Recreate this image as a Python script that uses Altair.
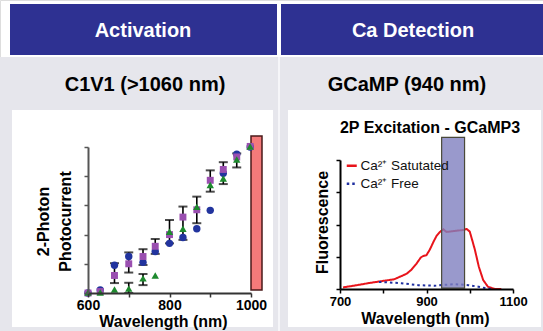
import altair as alt
import pandas as pd

FONT = "Liberation Sans"

# ---------------- data ----------------
# Left panel: C1V1 two-photon photocurrent
wl_left = [600, 630, 665, 700, 735, 765, 800, 833, 867, 900, 932, 965, 998]
blue_vals = [0.0, 0.1, 0.95, 1.25, 1.05, 1.42, 1.7, 1.9, 2.2, 2.83, 4.1, 4.75, 5.0]
purple_vals = [0.0, 0.05, 0.6, 1.0, 1.25, 1.6, 2.0, 2.6, 2.85, 3.86, 4.23, 4.66, 5.02]
green_vals = [0.02, 0.02, 0.12, 0.15, 0.5, 0.6, 2.1, 2.2, 2.95, 3.7, 3.92, 4.57, 5.02]
err_wl = [665, 700, 700, 735, 735, 765, 800, 833, 867, 900, 932, 965]
err_lo = [0.34, 0.70, 0.0, 0.96, 0.27, 1.34, 1.7, 1.82, 2.39, 3.47, 3.73, 4.3]
err_hi = [1.02, 1.39, 0.35, 1.5, 0.65, 1.85, 2.5, 2.96, 3.3, 4.2, 4.48, 4.78]
band_left_x = [1000, 1027]
band_left_y = [0.1, 5.38]

# Right panel: GCaMP3 2P excitation
wl_sat = [707, 740, 765, 804, 825, 842, 855, 866, 877, 887, 892, 900, 908, 916, 923, 931, 939,
          946, 965, 985, 993, 1000, 1006, 1012, 1021, 1031, 1042, 1058, 1073]
sat_vals = [0.05, 0.12, 0.18, 0.26, 0.30, 0.40, 0.48, 0.61, 0.79, 0.98, 1.02, 1.05, 1.23, 1.46,
            1.64, 1.77, 1.85, 1.77, 1.80, 1.83, 1.86, 1.78, 1.5, 1.21, 0.69, 0.28, 0.07, 0.0, 0.0]
wl_free = [790, 804, 842, 881, 919, 942, 966, 997, 1020, 1043, 1055]
free_vals = [0.22, 0.21, 0.18, 0.12, 0.10, 0.13, 0.15, 0.12, 0.07, 0.01, 0.0]
band_right_x = [935, 988]
band_right_y = [0.03, 4.7]

series_names = ["Ca\u00b2\u207a Satutated", "Ca\u00b2\u207a Free"]
headers = ["Activation", "Ca Detection"]
subheaders = ["C1V1 (>1060 nm)", "GCaMP (940 nm)"]
right_title = "2P Excitation - GCaMP3"

# ---------------- helpers ----------------
one = pd.DataFrame({"k": [0]})


def rect(x1, x2, y1, y2, color):
    return alt.Chart(one).mark_rect(color=color).encode(
        x=alt.value(x1), x2=alt.value(x2), y=alt.value(y1), y2=alt.value(y2))


def text(x, y, s, size, color="black", weight="bold"):
    return alt.Chart(one).mark_text(
        font=FONT, fontSize=size, fontWeight=weight, color=color,
        align="center", baseline="alphabetic", text=s
    ).encode(x=alt.value(x), y=alt.value(y))


BLUE_HDR = "#2E3192"
GRAY = "#E6E6EC"

deco = [
    rect(0, 543, 57, 331, GRAY),
    rect(10, 277, 4, 55, BLUE_HDR),
    rect(281, 543, 4, 55, BLUE_HDR),
    rect(278, 280, 57, 331, "#F6F6F9"),
    rect(12, 273, 110, 327, "white"),
    rect(288, 541, 110, 327, "white"),
    text(143, 37, headers[0], 20, "white"),
    text(413, 37, headers[1], 20, "white"),
    text(145, 91, subheaders[0], 20),
    text(407, 91, subheaders[1], 20),
    text(430, 133, right_title, 16),
]

# ---------------- left panel ----------------
LX = alt.Scale(domain=[600, 1000], range=[88, 251], nice=False, zero=False)
LY = alt.Scale(domain=[0, 5], range=[293, 147], nice=False, zero=False)

left_xaxis = alt.Axis(
    orient="bottom", offset=-38, values=[600, 700, 800, 900, 1000], format="d",
    labelExpr="datum.value % 200 == 0 ? datum.label : ''",
    labelFont=FONT, labelFontSize=14, labelFontWeight="bold", labelColor="black",
    labelPadding=1, labelFlush=False, labelOverlap=False,
    tickSize=4, tickColor="#333", tickWidth=1.5, domainColor="#333", domainWidth=2,
    title="Wavelength (nm)", titleFont=FONT, titleFontSize=16, titleFontWeight="bold",
    titleColor="black", titleX=163, titleY=33, titleBaseline="alphabetic", titleAlign="center",
    grid=False, zindex=1)
left_yaxis = alt.Axis(
    orient="left", offset=-88, values=[0, 1, 2, 3, 4, 5], labels=False,
    tickSize=4, tickColor="#555", tickWidth=1.5, domainColor="#555", domainWidth=2,
    title=["2-Photon", "Photocurrent"], titleFont=FONT, titleFontSize=16,
    titleFontWeight="bold", titleColor="black", titleAngle=270, titleX=-45, titleY=221,
    titleBaseline="middle", titleAlign="center", titleLineHeight=22, grid=False, zindex=1)

left_df = pd.DataFrame({"wl": wl_left, "blue": blue_vals, "purple": purple_vals,
                        "green": green_vals})
err_df = pd.DataFrame({"wl": err_wl, "lo": err_lo, "hi": err_hi})
bandL_df = pd.DataFrame({"x1": [band_left_x[0]], "x2": [band_left_x[1]],
                         "y1": [band_left_y[0]], "y2": [band_left_y[1]]})

bandL = alt.Chart(bandL_df).mark_rect(fill="#F47A7A", stroke="#4a1a1a", strokeWidth=1.5).encode(
    x=alt.X("x1:Q", scale=LX, axis=left_xaxis), x2="x2:Q",
    y=alt.Y("y1:Q", scale=LY, axis=left_yaxis), y2="y2:Q")

err_rule = alt.Chart(err_df).mark_rule(color="black", strokeWidth=1.6).encode(
    x=alt.X("wl:Q", scale=LX, axis=None),
    y=alt.Y("lo:Q", scale=LY, axis=None), y2="hi:Q")
cap_lo = alt.Chart(err_df).mark_tick(orient="horizontal", color="black", size=9, thickness=2).encode(
    x=alt.X("wl:Q", scale=LX, axis=None), y=alt.Y("lo:Q", scale=LY, axis=None))
cap_hi = alt.Chart(err_df).mark_tick(orient="horizontal", color="black", size=9, thickness=2).encode(
    x=alt.X("wl:Q", scale=LX, axis=None), y=alt.Y("hi:Q", scale=LY, axis=None))


def pts(field, shape, color, size):
    return alt.Chart(left_df).mark_point(shape=shape, filled=True, color=color, size=size,
                                         opacity=1).encode(
        x=alt.X("wl:Q", scale=LX, axis=None), y=alt.Y(field + ":Q", scale=LY, axis=None))


left_layers = [bandL, err_rule, cap_lo, cap_hi,
               pts("blue", "circle", "#22349E", 55),
               pts("purple", "square", "#9A4FB0", 48),
               pts("green", "triangle-up", "#1E8A2E", 55)]

# ---------------- right panel ----------------
RX = alt.Scale(domain=[700, 1100], range=[340, 513], nice=False, zero=False)
RY = alt.Scale(domain=[0, 4], range=[289, 160], nice=False, zero=False)

right_xaxis = alt.Axis(
    orient="bottom", offset=-42, values=[700, 800, 900, 1000, 1100], format="d",
    labelExpr="datum.value % 200 == 100 ? datum.label : ''",
    labelFont=FONT, labelFontSize=13, labelFontWeight="bold", labelColor="black",
    labelPadding=2, labelFlush=False, labelOverlap=False,
    tickSize=4, tickColor="black", tickWidth=1.5, domainColor="black", domainWidth=2,
    title="Wavelength (nm)", titleFont=FONT, titleFontSize=16, titleFontWeight="bold",
    titleColor="black", titleX=425, titleY=34, titleBaseline="alphabetic", titleAlign="center",
    grid=False, zindex=1)
right_yaxis = alt.Axis(
    orient="left", offset=-340, values=[0, 1, 2, 3, 4], labels=False,
    tickSize=4, tickColor="black", tickWidth=1.5, domainColor="black", domainWidth=2,
    title="Fluorescence", titleFont=FONT, titleFontSize=16, titleFontWeight="bold",
    titleColor="black", titleAngle=270, titleX=-18, titleY=222,
    titleBaseline="middle", titleAlign="center", grid=False, zindex=1)

lines_df = pd.concat([
    pd.DataFrame({"wl": wl_sat, "val": sat_vals, "series": series_names[0]}),
    pd.DataFrame({"wl": wl_free, "val": free_vals, "series": series_names[1]}),
], ignore_index=True)

leg = alt.Legend(orient="none", legendX=345, legendY=159, title=None, symbolType="stroke",
                 symbolSize=100, symbolStrokeWidth=2.5, labelFont=FONT, labelFontSize=13.5,
                 labelColor="#111", labelOffset=2, rowPadding=3, padding=0, symbolOffset=0)

lines = alt.Chart(lines_df).mark_line(strokeWidth=2).encode(
    x=alt.X("wl:Q", scale=RX, axis=right_xaxis),
    y=alt.Y("val:Q", scale=RY, axis=right_yaxis),
    color=alt.Color("series:N", scale=alt.Scale(domain=series_names,
                                                range=["#E8141B", "#1F2FA0"]), legend=leg),
    strokeDash=alt.StrokeDash("series:N", scale=alt.Scale(domain=series_names,
                                                          range=[[1, 0], [2.5, 3]]), legend=leg),
)

bandR_df = pd.DataFrame({"x1": [band_right_x[0]], "x2": [band_right_x[1]],
                         "y1": [band_right_y[0]], "y2": [band_right_y[1]]})
bandR = alt.Chart(bandR_df).mark_rect(fill="#8080BF", fillOpacity=0.8, stroke="#4a4a3a",
                                      strokeWidth=1.2).encode(
    x=alt.X("x1:Q", scale=RX, axis=None), x2="x2:Q",
    y=alt.Y("y1:Q", scale=RY, axis=None), y2="y2:Q")

right_layers = [lines, bandR]

chart = alt.layer(*deco, *left_layers, *right_layers).resolve_scale(
    x="independent", y="independent", color="independent", strokeDash="independent"
).resolve_axis(x="independent", y="independent").properties(
    width=543, height=331, padding=0, autosize=alt.AutoSizeParams(type="none"),
    background="white"
).configure_view(stroke=None).configure(font=FONT)

chart.save("out.html", embed_options={"renderer": "svg", "actions": False})
